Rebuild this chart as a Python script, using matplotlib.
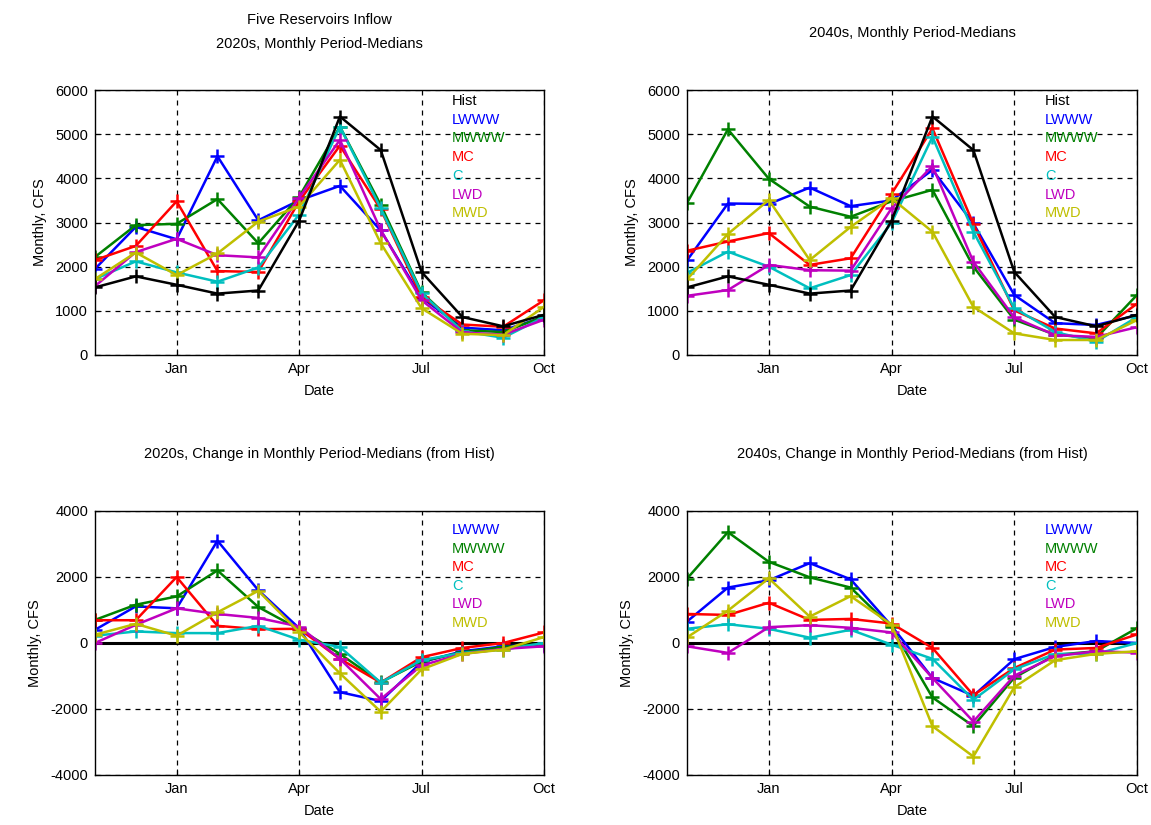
import matplotlib
matplotlib.use("Agg")
import matplotlib.pyplot as plt
import numpy as np

plt.rcParams['font.family'] = ['Liberation Sans', 'DejaVu Sans']
plt.rcParams['axes.unicode_minus'] = False

months = ["Nov", "Dec", "Jan", "Feb", "Mar", "Apr", "May", "Jun", "Jul", "Aug", "Sep", "Oct"]
tick_labels = ["Jan", "Apr", "Jul", "Oct"]
tick_months = [2, 5, 8, 11]

names = ["LWWW", "MWWW", "MC", "C", "LWD", "MWD"]
colors = ["#0000ff", "#008000", "#ff0000", "#00bfbf", "#bf00bf", "#bfbf00"]

hist = [1530, 1780, 1590, 1390, 1460, 3040, 5400, 4640, 1880, 860, 650, 910]

# 2020s monthly period-medians
f20_lwww = [1950, 2900, 2620, 4500, 3050, 3500, 3830, 2820, 1300, 620, 560, 860]
f20_mwww = [2220, 2940, 2970, 3530, 2530, 3580, 5170, 3400, 1420, 560, 520, 870]
f20_mc = [2150, 2470, 3480, 1900, 1880, 3480, 4740, 3300, 1320, 690, 640, 1240]
f20_c = [1720, 2120, 1870, 1660, 1980, 3180, 5170, 3320, 1400, 540, 390, 860]
f20_lwd = [1560, 2330, 2630, 2260, 2210, 3560, 4870, 2830, 1240, 510, 460, 800]
f20_mwd = [1720, 2320, 1810, 2300, 3020, 3360, 4420, 2530, 1060, 480, 450, 1090]

# 2040s monthly period-medians
f40_lwww = [2140, 3430, 3420, 3790, 3370, 3500, 4190, 2980, 1360, 720, 680, 900]
f40_mwww = [3440, 5110, 3990, 3360, 3130, 3480, 3740, 2000, 800, 460, 380, 1360]
f40_mc = [2360, 2570, 2760, 2040, 2190, 3650, 5130, 2970, 1010, 600, 490, 1160]
f40_c = [1860, 2340, 2000, 1510, 1810, 2990, 4940, 2790, 1060, 520, 300, 860]
f40_lwd = [1340, 1470, 2040, 1920, 1910, 3320, 4280, 2110, 850, 450, 410, 630]
f40_mwd = [1710, 2740, 3510, 2150, 2900, 3550, 2790, 1090, 490, 340, 340, 790]

# 2020s change from Hist
d20_lwww = [400, 1110, 1050, 3100, 1600, 450, -1490, -1760, -580, -250, -100, -50]
d20_mwww = [700, 1160, 1410, 2200, 1090, 420, -330, -1190, -560, -280, -120, -30]
d20_mc = [690, 690, 2000, 520, 420, 430, -480, -1200, -430, -150, 0, 320]
d20_c = [220, 350, 300, 300, 520, 100, -120, -1200, -520, -300, -200, 0]
d20_lwd = [0, 550, 1050, 880, 760, 500, -480, -1700, -680, -330, -180, -100]
d20_mwd = [250, 580, 220, 930, 1580, 330, -920, -2080, -800, -330, -200, 180]

# 2040s change from Hist
d40_lwww = [650, 1680, 1900, 2420, 1930, 520, -1060, -1600, -490, -120, 60, 0]
d40_mwww = [1950, 3360, 2460, 1990, 1680, 470, -1650, -2520, -1050, -360, -250, 450]
d40_mc = [880, 850, 1220, 700, 730, 590, -150, -1580, -760, -200, -150, 260]
d40_c = [430, 570, 430, 160, 400, -50, -480, -1720, -800, -330, -330, 0]
d40_lwd = [-100, -300, 480, 540, 460, 320, -1060, -2380, -990, -400, -250, -290]
d40_mwd = [170, 980, 1960, 800, 1420, 560, -2520, -3440, -1340, -520, -330, -250]

x = np.arange(len(months))

fig = plt.figure(figsize=(11.51, 8.25), dpi=100)
W, H = 1151, 825

def make_ax(l, r, t, b):
    return fig.add_axes([l / W, 1 - b / H, (r - l) / W, (b - t) / H])

ax_tl = make_ax(95, 544, 90, 355)
ax_tr = make_ax(687, 1137, 90, 355)
ax_bl = make_ax(95, 544, 511, 775)
ax_br = make_ax(687, 1137, 511, 775)

fs = 10.5

def style(ax, ylim, yticks):
    ax.set_xlim(0, 11)
    ax.set_ylim(*ylim)
    ax.set_xticks(tick_months)
    ax.set_xticklabels(tick_labels)
    ax.set_yticks(yticks)
    ax.tick_params(direction='in', length=4, labelsize=fs, colors='black', pad=5)
    ax.grid(True, color='black', linestyle=(0, (4, 4)), linewidth=0.9)
    for s in ax.spines.values():
        s.set_linewidth(1.0)
        s.set_color('black')
    ax.set_xlabel("Date", fontsize=fs, labelpad=6)
    ax.set_ylabel("Monthly, CFS", fontsize=fs, labelpad=6)

def plot_series(ax, series, with_hist):
    for vals, c in zip(series, colors):
        ax.plot(x, vals, color=c, lw=1.8, marker='+', ms=10, mew=1.8)
    if with_hist:
        ax.plot(x, hist, color='black', lw=1.8, marker='+', ms=10, mew=1.8)

def legend_text(ax, y0, with_hist):
    labels = (["Hist"] if with_hist else []) + names
    cols = (["black"] if with_hist else []) + colors
    for i, (lab, c) in enumerate(zip(labels, cols)):
        ax.text(0.795, y0 - i * 0.0705, lab, color=c, transform=ax.transAxes,
                fontsize=fs, va='center', ha='left')

f20 = [f20_lwww, f20_mwww, f20_mc, f20_c, f20_lwd, f20_mwd]
f40 = [f40_lwww, f40_mwww, f40_mc, f40_c, f40_lwd, f40_mwd]
d20 = [d20_lwww, d20_mwww, d20_mc, d20_c, d20_lwd, d20_mwd]
d40 = [d40_lwww, d40_mwww, d40_mc, d40_c, d40_lwd, d40_mwd]

for ax, data in [(ax_tl, f20), (ax_tr, f40)]:
    style(ax, (0, 6000), np.arange(0, 6001, 1000))
    plot_series(ax, data, True)
    legend_text(ax, 0.958, True)

for ax, data in [(ax_bl, d20), (ax_br, d40)]:
    style(ax, (-4000, 4000), np.arange(-4000, 4001, 2000))
    ax.axhline(0, color='black', lw=2.2, zorder=1.5)
    plot_series(ax, data, False)
    legend_text(ax, 0.928, False)

ax_tl.set_title("Five Reservoirs Inflow\n2020s, Monthly Period-Medians", fontsize=fs, pad=30, linespacing=1.9)
ax_tr.set_title("2040s, Monthly Period-Medians", fontsize=fs, pad=38)
ax_bl.set_title("2020s, Change in Monthly Period-Medians (from Hist)", fontsize=fs, pad=38)
ax_br.set_title("2040s, Change in Monthly Period-Medians (from Hist)", fontsize=fs, pad=38)

fig.savefig("out.png", dpi=100)
